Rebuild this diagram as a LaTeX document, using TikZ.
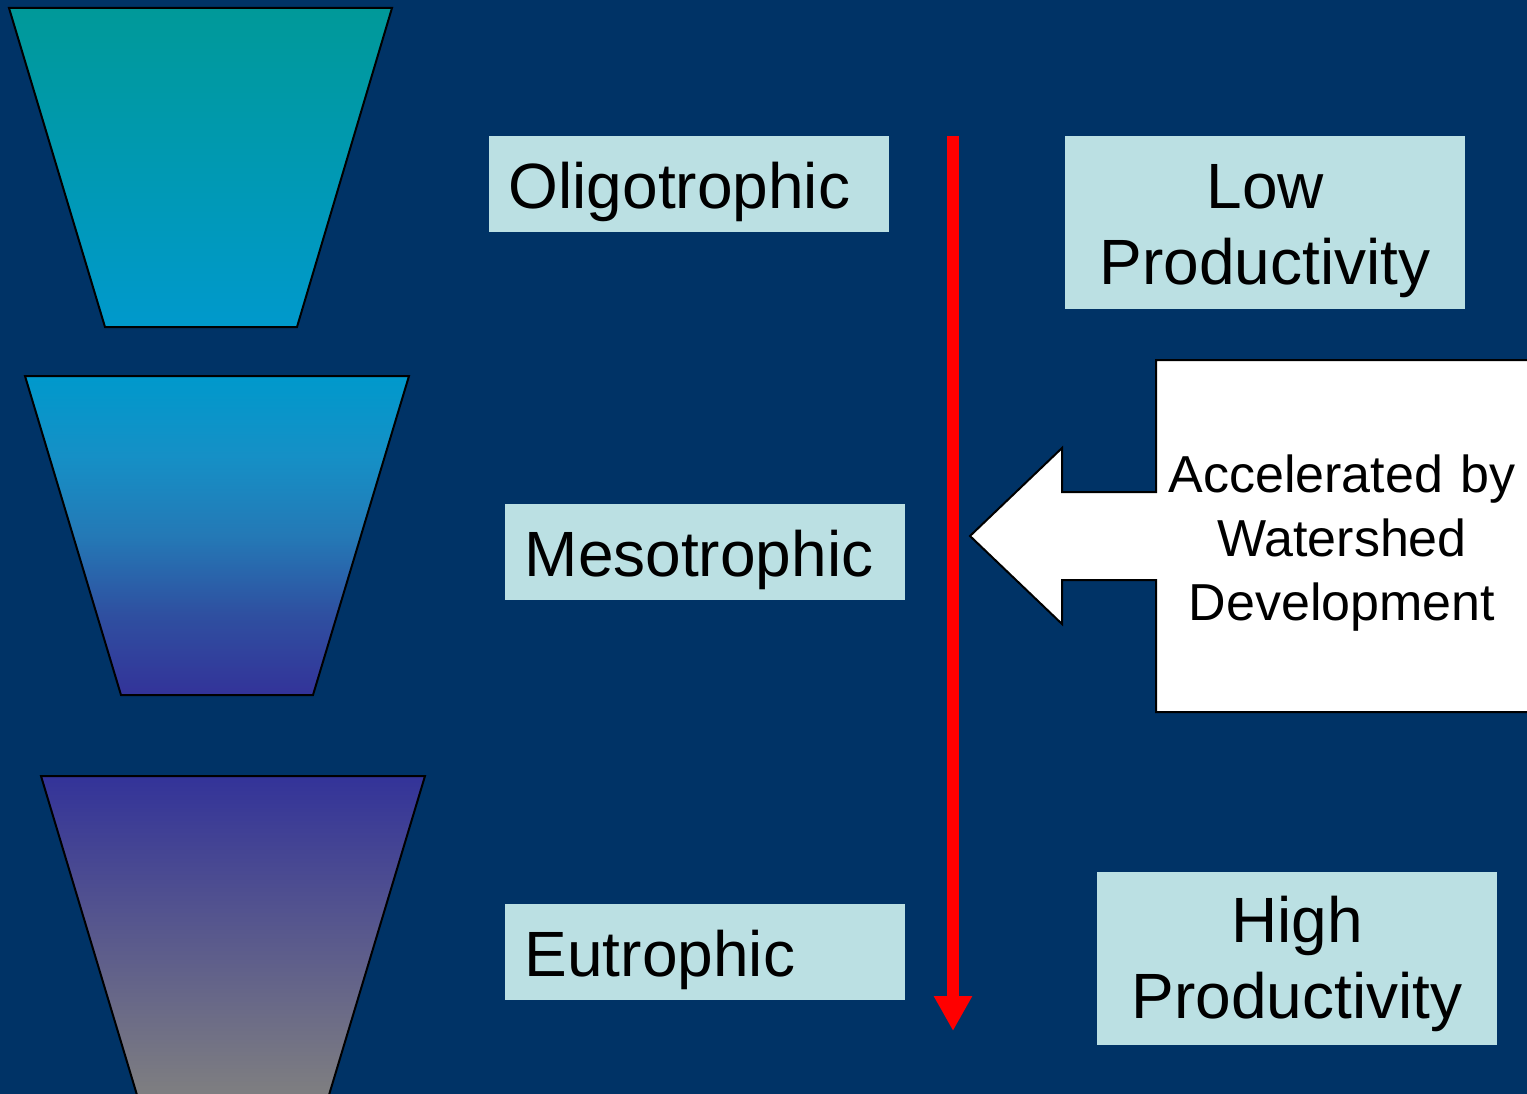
\documentclass[tikz,border=0pt]{standalone}
\usepackage{fontspec}
\setmainfont{Liberation Sans}
\usetikzlibrary{arrows.meta}
\definecolor{bgblue}{HTML}{003366}
\definecolor{boxfill}{HTML}{BBE0E3}
\definecolor{tealtop}{HTML}{009999}
\definecolor{cyanmid}{HTML}{0099CC}
\definecolor{indigo}{HTML}{333399}
\definecolor{greybot}{HTML}{808080}
\definecolor{redline}{HTML}{FF0000}
\definecolor{midA}{HTML}{2F4FA0}
\definecolor{midB}{HTML}{2479B6}
\definecolor{midC}{HTML}{1590C6}
\pgfdeclareverticalshading{midbasin}{100bp}{color(0bp)=(indigo); color(25bp)=(indigo);
  color(37.5bp)=(midA); color(50bp)=(midB); color(62.5bp)=(midC);
  color(75bp)=(cyanmid); color(100bp)=(cyanmid)}
\begin{document}
\begin{tikzpicture}[x=1pt,y=-1pt,
  trap/.style={draw=black, line width=2pt},
  lbox/.style={fill=boxfill, anchor=north west, inner ysep=0pt, inner xsep=19.5pt,
    text width=361pt, align=left, font=\fontsize{64}{76}\selectfont,
    text height=72pt, text depth=24pt},
  pbox/.style={fill=boxfill, anchor=north west, inner sep=0pt,
    text width=400pt, align=center, font=\fontsize{64}{76}\selectfont},
  callout/.style={fill=white, draw=black, line width=2pt, line join=miter},
  trend/.style={draw=redline, line width=12pt, -{Triangle[width=36pt,length=35pt]}}
]
\useasboundingbox (0,0) rectangle (1527,1094);
\clip (0,0) rectangle (1527,1094);
\fill[bgblue] (0,0) rectangle (1527,1094);

% lake basins
\path[trap, shading=axis, top color=tealtop, bottom color=cyanmid]
  (9,8) -- (392,8) -- (297,327) -- (105,327) -- cycle;
\path[trap, shading=midbasin]
  (25,376) -- (409,376) -- (313,695) -- (121,695) -- cycle;
\path[trap, shading=axis, top color=indigo, bottom color=greybot]
  (41,776) -- (425,776) -- (327.5,1100) -- (138.5,1100) -- cycle;

% trophic state labels
\node (oligo) [lbox] at (489,136) {Oligotrophic};
\node (meso)  [lbox] at (505,504) {Mesotrophic};
\node (eutro) [lbox] at (505,904) {Eutrophic};

% productivity labels
\node (low)  [pbox, text height=72pt, text depth=101pt] at (1065,136) {Low\\Productivity};
\node (high) [pbox, text height=70pt, text depth=103pt] at (1097,872) {High\\Productivity};

% red trend arrow
\coordinate (trendtop) at (953,136);
\coordinate (trendend) at (953,1031);
\draw[trend] (trendtop) -- (trendend);

% callout
\path[callout] (1156,360) -- (1545,360) -- (1545,712) -- (1156,712) -- (1156,580)
  -- (1062,580) -- (1062,624) -- (970,536) -- (1062,448) -- (1062,492)
  -- (1156,492) -- cycle;
\node (accel) [anchor=base, align=center, text width=372pt, inner sep=0pt,
  font=\fontsize{52}{64}\selectfont] at (1342,492)
  {Accelerated by\\Watershed\\Development};
\end{tikzpicture}
\end{document}
